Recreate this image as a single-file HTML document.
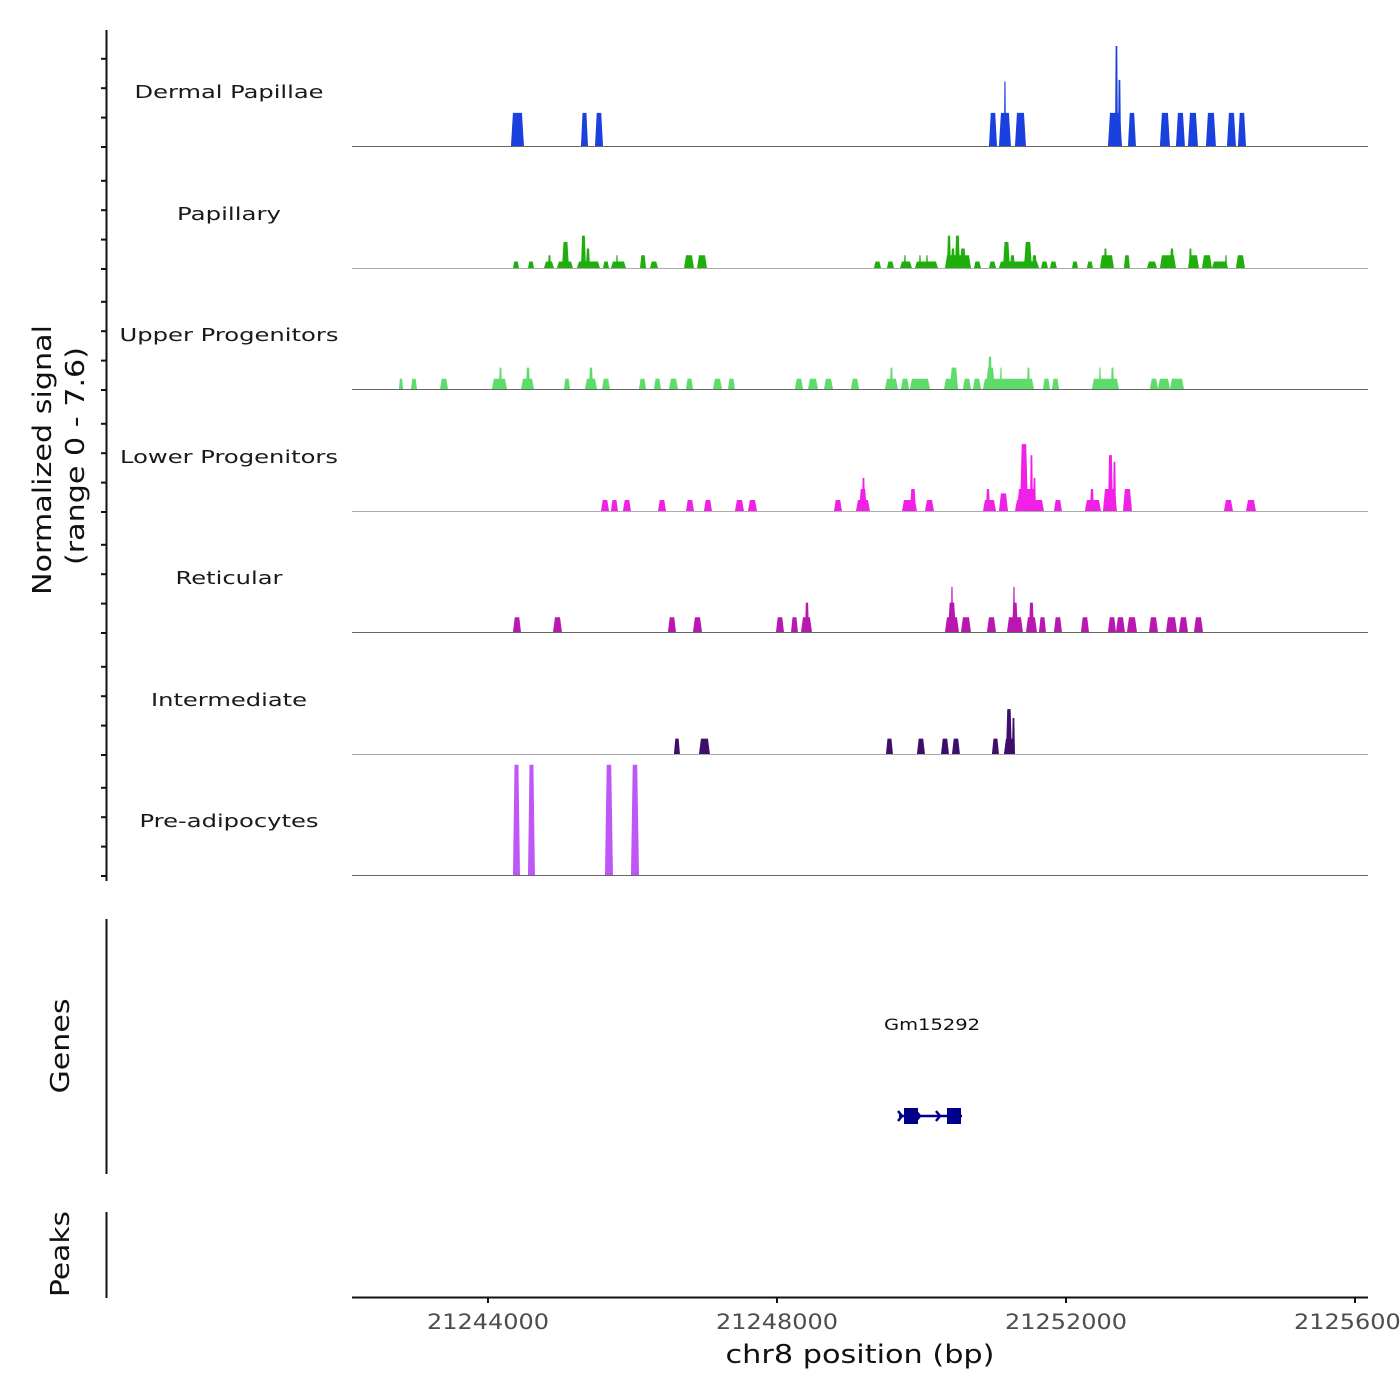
<!DOCTYPE html>
<html><head><meta charset="utf-8"><style>
html,body{margin:0;padding:0;background:#fff;}
svg{display:block;font-family:"DejaVu Sans","Liberation Sans",sans-serif;}
</style></head><body>
<svg id="chart" width="1400" height="1400" viewBox="0 0 1400 1400" xmlns="http://www.w3.org/2000/svg">
<g id="tracks"></g>
<g id="axes"></g>
</svg>
<script>
const trackNames = ["Dermal Papillae","Papillary","Upper Progenitors","Lower Progenitors","Reticular","Intermediate","Pre-adipocytes"];
const trackColors = ["#1a40dd","#1fae0e","#5ddc6a","#f020e6","#b817b0","#3d0f6a","#bf56f6"];
const xTicks = [21244000,21248000,21252000,21256000];
const xTickLabels = ["21244000","21248000","21252000","21256000"];
const yTickValues = [0,2,4,6];
// segments: [startBp, endBp, value]
const dermalPapillae = [[21244318,21244498,2.25],[21245287,21245384,2.25],[21245481,21245592,2.25],[21250934,21251045,2.25],[21251072,21251238,2.25],[21251141,21251169,4.4],[21251294,21251446,2.25],[21252581,21252775,2.25],[21252678,21252719,6.8],[21252719,21252761,4.5],[21252858,21252968,2.25],[21253300,21253439,2.25],[21253522,21253646,2.25],[21253688,21253826,2.25],[21253937,21254075,2.25],[21254228,21254352,2.25],[21254380,21254491,2.25]];
const papillary = [[21244346,21244429,0.44],[21244554,21244637,0.44],[21244775,21244913,0.44],[21244830,21244872,0.87],[21244955,21245176,0.44],[21245024,21245121,1.77],[21245232,21245550,0.44],[21245287,21245356,2.2],[21245356,21245412,1.33],[21245592,21245675,0.44],[21245702,21245910,0.44],[21245772,21245799,0.87],[21246104,21246187,0.87],[21246242,21246353,0.44],[21246713,21246851,0.87],[21246893,21247031,0.87],[21249342,21249439,0.44],[21249522,21249619,0.44],[21249702,21249868,0.44],[21249757,21249785,0.87],[21249910,21250228,0.44],[21249965,21249993,0.87],[21250062,21250090,0.87],[21250325,21250685,0.87],[21250353,21250408,2.2],[21250408,21250463,1.33],[21250463,21250532,2.2],[21250532,21250616,1.33],[21250726,21250823,0.44],[21250934,21251031,0.44],[21251072,21251626,0.44],[21251128,21251224,1.77],[21251224,21251294,0.87],[21251418,21251529,1.77],[21251529,21251598,0.87],[21251654,21251750,0.44],[21251778,21251874,0.44],[21252083,21252166,0.44],[21252290,21252373,0.44],[21252470,21252664,0.87],[21252525,21252567,1.33],[21252802,21252885,0.87],[21253121,21253259,0.44],[21253300,21253522,0.87],[21253439,21253494,1.33],[21253688,21253840,0.87],[21253702,21253743,1.33],[21253882,21254020,0.87],[21254020,21254242,0.44],[21254200,21254228,0.87],[21254352,21254477,0.87]];
const upperProgenitors = [[21242768,21242824,0.7],[21242934,21243017,0.7],[21243336,21243446,0.7],[21244055,21244263,0.7],[21244152,21244194,1.45],[21244457,21244637,0.7],[21244526,21244581,1.45],[21245052,21245135,0.7],[21245342,21245509,0.7],[21245398,21245453,1.45],[21245578,21245688,0.7],[21246090,21246187,0.7],[21246297,21246394,0.7],[21246505,21246630,0.7],[21246740,21246837,0.7],[21247114,21247239,0.7],[21247322,21247418,0.7],[21248249,21248360,0.7],[21248429,21248567,0.7],[21248650,21248775,0.7],[21249024,21249135,0.7],[21249494,21249674,0.7],[21249564,21249605,1.45],[21249716,21249827,0.7],[21249840,21250117,0.7],[21250311,21250505,0.7],[21250394,21250505,1.45],[21250574,21250685,0.7],[21250712,21250823,0.7],[21250851,21251557,0.7],[21250892,21251017,1.45],[21250920,21250975,2.2],[21251086,21251114,1.45],[21251460,21251501,1.45],[21251681,21251778,0.7],[21251806,21251903,0.7],[21252359,21252733,0.7],[21252456,21252484,1.45],[21252622,21252664,1.45],[21253162,21253273,0.7],[21253273,21253439,0.7],[21253439,21253633,0.7]];
const lowerProgenitors = [[21245564,21245675,0.75],[21245702,21245799,0.75],[21245868,21245979,0.75],[21246353,21246464,0.75],[21246740,21246851,0.75],[21246989,21247100,0.75],[21247418,21247543,0.75],[21247598,21247723,0.75],[21248789,21248899,0.75],[21249093,21249287,0.75],[21249135,21249245,1.5],[21249176,21249218,2.25],[21249730,21249937,0.75],[21249840,21249924,1.5],[21250048,21250173,0.75],[21250851,21251031,0.75],[21250892,21250948,1.5],[21251072,21251197,1.2],[21251294,21251695,0.75],[21251321,21251584,1.5],[21251363,21251474,4.55],[21251501,21251543,3.8],[21251543,21251584,2.25],[21251833,21251944,0.75],[21252262,21252484,0.75],[21252332,21252387,1.5],[21252512,21252705,1.5],[21252581,21252650,3.8],[21252650,21252692,3.35],[21252788,21252913,1.5],[21254186,21254311,0.75],[21254491,21254629,0.75]];
const reticular = [[21244346,21244457,1.0],[21244900,21245024,1.0],[21246491,21246602,1.0],[21246837,21246962,1.0],[21247986,21248097,1.0],[21248194,21248290,1.0],[21248332,21248484,1.0],[21248387,21248443,2.0],[21250325,21250519,1.0],[21250366,21250477,2.0],[21250408,21250436,3.07],[21250546,21250685,1.0],[21250906,21251031,1.0],[21251183,21251404,1.0],[21251252,21251335,2.0],[21251266,21251294,3.07],[21251446,21251598,1.0],[21251487,21251557,2.0],[21251626,21251723,1.0],[21251833,21251944,1.0],[21252207,21252318,1.0],[21252581,21252692,1.0],[21252692,21252816,1.0],[21252844,21252982,1.0],[21253148,21253273,1.0],[21253384,21253536,1.0],[21253563,21253688,1.0],[21253771,21253896,1.0]];
const intermediate = [[21246574,21246657,1.05],[21246920,21247072,1.05],[21249508,21249605,1.05],[21249937,21250048,1.05],[21250270,21250380,1.05],[21250422,21250532,1.05],[21250975,21251072,1.05],[21251141,21251294,1.05],[21251169,21251252,3.05],[21251252,21251294,2.45]];
const preAdipocytes = [[21244346,21244443,7.6],[21244554,21244650,7.6],[21245619,21245730,7.6],[21245979,21246090,7.6]];
const trackData = [dermalPapillae,papillary,upperProgenitors,lowerProgenitors,reticular,intermediate,preAdipocytes];
const labelWidths = [189,104,219,218,107,156,179];

const NS="http://www.w3.org/2000/svg";
const X0=352,X1=1368,BP0=21242118,BP1=21256180;
function xScale(bp){return X0+(bp-BP0)/(BP1-BP0)*(X1-X0);}
const baselines=[146,268,389,511,632,754,875];
const PX_PER_UNIT=14.7;
function yScale(track,v){return baselines[track]-Math.min(v,7.5)*PX_PER_UNIT;}
function mk(tag,attrs,parent){const e=document.createElementNS(NS,tag);for(const k in attrs)e.setAttribute(k,attrs[k]);parent.appendChild(e);return e;}
const tracksG=document.getElementById('tracks');
const axesG=document.getElementById('axes');

trackData.forEach((segs,t)=>{
  const g=mk('g',{},tracksG);
  
  
  const base=baselines[t];
  const ln=mk('line',{x1:X0,x2:X1,y1:base+0.5,y2:base+0.5,stroke:t%2?'#aaaaaa':'#666666','stroke-width':1},g);
  
  
  segs.forEach(s=>{
    const a=xScale(s[0]),b=xScale(s[1]),top=yScale(t,s[2]);
    const ins=Math.min(2,(b-a)*0.22);
    const p=mk('polygon',{points:`${a},${base} ${a+ins},${top} ${b-ins},${top} ${b},${base}`,fill:trackColors[t]},g);
    
    
  });
  const lab=mk('text',{x:229,y:base-48,'text-anchor':'middle','font-size':'17.5',fill:'#1a1a1a',textLength:labelWidths[t],lengthAdjust:'spacingAndGlyphs'},g);
  lab.textContent=trackNames[t];
  
  
  yTickValues.forEach(v=>{
    const y=base+1-v*PX_PER_UNIT;
    const tk=mk('line',{x1:101,x2:106,y1:y,y2:y,stroke:'#111','stroke-width':2},axesG);
    
    
  });
});

[[30,881],[919,1174],[1212,1298]].forEach(r=>{
  const l=mk('line',{x1:106.5,x2:106.5,y1:r[0],y2:r[1],stroke:'#111','stroke-width':2},axesG);
  
  
});
function vtext(x,y,txt,name,size,len){
  const e=mk('text',{x:x,y:y,'text-anchor':'middle','font-size':size,fill:'#111',transform:`rotate(-90 ${x} ${y})`,textLength:len,lengthAdjust:'spacingAndGlyphs'},axesG);
  e.textContent=txt;
  
  
}
vtext(51,460,'Normalized signal','y-axis-title',26,270);
vtext(84,456,'(range 0 - 7.6)','y-axis-subtitle',26,218);
vtext(69,1046,'Genes','genes-axis-title',26,95);
vtext(69,1254,'Peaks','peaks-axis-title',26,86);

const gg=mk('g',{},axesG);


mk('line',{x1:899,x2:962,y1:1116,y2:1116,stroke:'#00008b','stroke-width':2.5},gg);
mk('rect',{x:904,y:1108,width:14,height:16,fill:'#00008b'},gg);
mk('rect',{x:947,y:1108,width:14,height:16,fill:'#00008b'},gg);
[902,920,940].forEach(ax=>{mk('path',{d:`M${ax-4},${1111} L${ax},1116 L${ax-4},1121`,stroke:'#00008b','stroke-width':2.5,fill:'none'},gg);});
const gl=mk('text',{x:932,y:1030,'text-anchor':'middle','font-size':16,fill:'#111',textLength:96,lengthAdjust:'spacingAndGlyphs'},axesG);
gl.textContent='Gm15292';



const xa=mk('line',{x1:X0,x2:X1,y1:1297.5,y2:1297.5,stroke:'#111','stroke-width':2},axesG);


xTicks.forEach((v,i)=>{
  const x=xScale(v);
  const tk=mk('line',{x1:x,x2:x,y1:1297,y2:1303,stroke:'#111','stroke-width':2},axesG);
  
  
  const tl=mk('text',{x:x,y:1329,'text-anchor':'middle','font-size':21,fill:'#4d4d4d',textLength:122,lengthAdjust:'spacingAndGlyphs'},axesG);
  tl.textContent=xTickLabels[i];
  
  
});
const xt=mk('text',{x:860,y:1363,'text-anchor':'middle','font-size':26,fill:'#111',textLength:269,lengthAdjust:'spacingAndGlyphs'},axesG);
xt.textContent='chr8 position (bp)';


</script>
</body></html>
